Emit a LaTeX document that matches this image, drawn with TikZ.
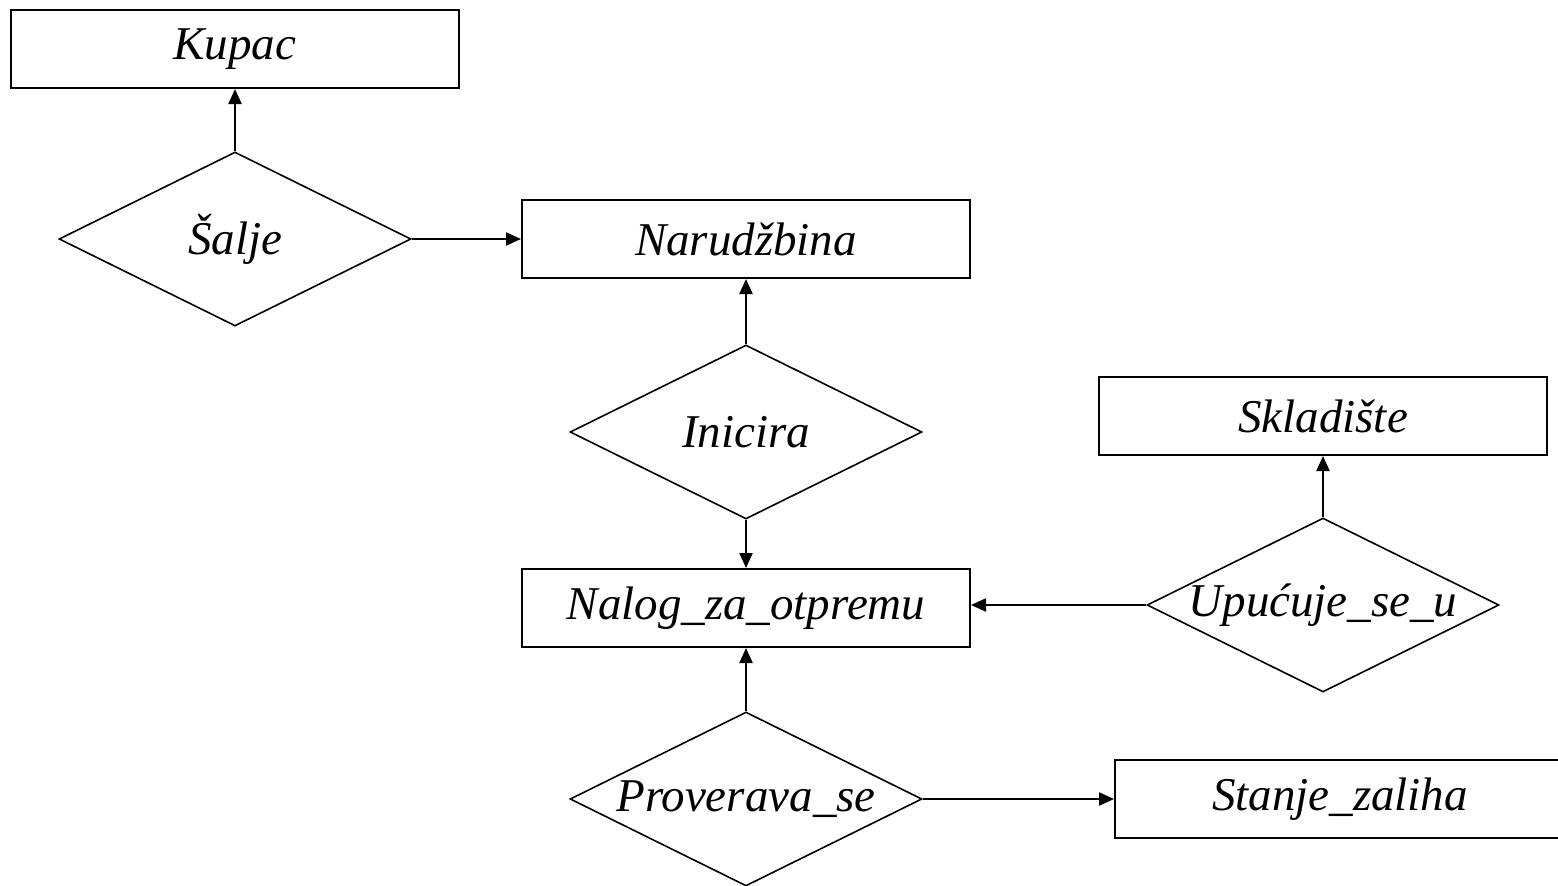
\documentclass[tikz,border=0pt]{standalone}
\usepackage{fontspec}
\setmainfont{Liberation Serif}
\usepackage{tikz}
\usetikzlibrary{shapes, arrows.meta, positioning}

\tikzset{
    entity/.style={draw, line width=2pt, minimum width=448pt, minimum height=78pt, inner sep=0pt},
    relation/.style={diamond, draw, line width=1.6pt, minimum width=352pt, minimum height=174pt, inner sep=0pt},
    conn/.style={line width=2.2pt, -{Triangle[length=15pt, width=13pt]}}
}

\begin{document}
\begin{tikzpicture}[x=1pt, y=-1pt, font=\fontsize{47}{56}\selectfont\itshape]
        \useasboundingbox (0, 0) rectangle (1558, 886);

        \node[entity] at (235, 49) (kupac) {Kupac};
        \node[entity] at (746, 239) (narudzbina) {Narudžbina};
        \node[entity] at (746, 608) (nalog) {Nalog\_za\_otpremu};
        \node[entity] at (1323, 416) (skladiste) {Skladište};
        \node[entity, minimum width=450pt] at (1340, 799) (stanje) {Stanje\_zaliha};

        \node[relation, label={center:Šalje}] at (235, 239) (salje) {};
        \node[relation, label={center:Inicira}] at (746, 432) (inicira) {};
        \node[relation, label={center:Upućuje\_se\_u}] at (1323, 605) (upucuje) {};
        \node[relation, label={center:Proverava\_se}] at (746, 799) (proverava) {};

        \draw[conn] (salje) to (kupac);
        \draw[conn] (salje.east) to (narudzbina.west);
        \draw[conn] (inicira) to (narudzbina);
        \draw[conn] (inicira) to (nalog);
        \draw[conn] (upucuje) to (skladiste);
        \draw[conn] (upucuje.west) to (upucuje.west -| nalog.east);
        \draw[conn] (proverava) to (nalog);
        \draw[conn] (proverava.east) to (proverava.east -| stanje.west);
    \end{tikzpicture}
\end{document}
